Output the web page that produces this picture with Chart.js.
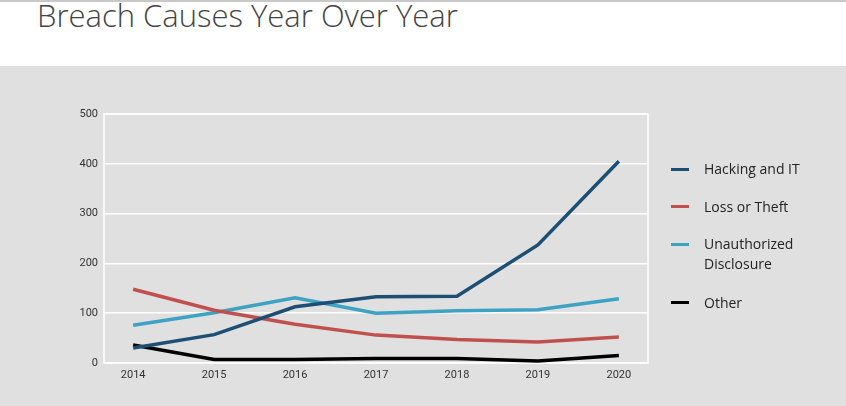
<!DOCTYPE html>
<html>
<head>
<meta charset="utf-8">
<script src="https://cdn.jsdelivr.net/npm/chart.js@4.4.1/dist/chart.umd.min.js"></script>
<style>
  html, body { margin: 0; padding: 0; width: 846px; height: 406px; overflow: hidden; background: #fff; }
  #top { position: absolute; left: 0; top: 0; width: 846px; height: 66px; background: #fff;
         border-top: 2px solid #c8c8c8; box-sizing: border-box; }
  #title { position: absolute; left: 37px; top: -8px; font-family: "Open Sans", sans-serif; font-weight: 330;
           font-size: 31px; color: #444444; white-space: nowrap; }
  #panel { position: absolute; left: 0; top: 66px; width: 846px; height: 340px; background: #e0e0e0; }
  #wrap { position: absolute; left: 0; top: 0; width: 846px; height: 340px; }
  #legend { position: absolute; left: 671px; top: 0; font-family: "Open Sans", sans-serif; font-size: 14px; color: #222; }
  .item { position: absolute; left: 0; width: 170px; }
  .mark { position: absolute; left: 0; width: 18px; height: 3px; }
  .txt { position: absolute; left: 33px; line-height: 20px; white-space: nowrap; }
</style>
</head>
<body>
<div id="top"><div id="title">Breach Causes Year Over Year</div></div>
<div id="panel">
  <div id="wrap"><canvas id="c" width="846" height="340"></canvas></div>
  <div id="legend"></div>
</div>
<script>
const years = [2014, 2015, 2016, 2017, 2018, 2019, 2020];
const seriesNames = ["Hacking and IT", "Loss or Theft", "Unauthorized Disclosure", "Other"];
const legendLines = [["Hacking and IT"], ["Loss or Theft"], ["Unauthorized", "Disclosure"], ["Other"]];
const hackingIT = [30, 57, 113, 133, 134, 237, 405];
const lossTheft = [148, 106, 78, 56, 47, 42, 52];
const unauthorized = [76, 101, 131, 100, 105, 107, 129];
const other = [36, 7, 7, 9, 9, 4, 15];
const yTicks = [0, 100, 200, 300, 400, 500];
const colors = ["#1d4f74", "#c0504d", "#3ea2c3", "#000000"];

const seriesValues = [hackingIT, lossTheft, unauthorized, other];

const borderPlugin = {
  id: 'plotBorder',
  beforeDatasetsDraw(chart) {
    const a = chart.chartArea, ctx = chart.ctx;
    ctx.save();
    ctx.strokeStyle = '#ffffff';
    ctx.lineWidth = 1.5;
    ctx.strokeRect(a.left, a.top, a.right - a.left, a.bottom - a.top);
    ctx.restore();
  }
};

const chart = new Chart(document.getElementById('c'), {
  type: 'line',
  data: {
    datasets: seriesNames.map((n, i) => ({
      label: n,
      data: years.map((y, j) => ({ x: y, y: seriesValues[i][j] })),
      borderColor: colors[i],
      backgroundColor: colors[i],
      borderWidth: 3.5,
      pointRadius: 0,
      tension: 0,
      fill: false
    }))
  },
  options: {
    responsive: false,
    animation: false,
    layout: { padding: { left: 0, right: 198, top: 48, bottom: 0 } },
    plugins: { legend: { display: false }, tooltip: { enabled: false } },
    scales: {
      x: {
        type: 'linear',
        min: 2013.64,
        max: 2020.36,
        afterBuildTicks: s => { s.ticks = years.map(v => ({ value: v })); },
        afterFit: s => { s.height = 43; },
        grid: { display: false, drawTicks: false },
        border: { display: false },
        ticks: { padding: 6, color: '#333', font: { family: 'Roboto', size: 11 }, callback: v => String(v), maxRotation: 0, autoSkip: false }
      },
      y: {
        min: 0, max: 500,
        afterBuildTicks: s => { s.ticks = yTicks.map(v => ({ value: v })); },
        afterFit: s => { s.width = 104; },
        grid: { color: '#ffffff', lineWidth: 1.5, drawTicks: false },
        border: { display: false },
        ticks: { padding: 6, color: '#333', font: { family: 'Roboto', size: 11 } }
      }
    }
  },
  plugins: [borderPlugin]
});

// HTML legend built from chart datasets
const legendTops = [103, 140.5, 178, 236.5];
const legend = document.getElementById('legend');
chart.data.datasets.forEach((ds, i) => {
  const item = document.createElement('div');
  item.className = 'item';
  item.style.top = legendTops[i] + 'px';
  const mark = document.createElement('div');
  mark.className = 'mark';
  mark.style.background = ds.borderColor;
  mark.style.top = '-1.5px';
  const txt = document.createElement('div');
  txt.className = 'txt';
  txt.style.top = '-10px';
  txt.innerHTML = legendLines[i].join('<br>');
  item.appendChild(mark);
  item.appendChild(txt);
  legend.appendChild(item);
});
</script>
</body>
</html>
